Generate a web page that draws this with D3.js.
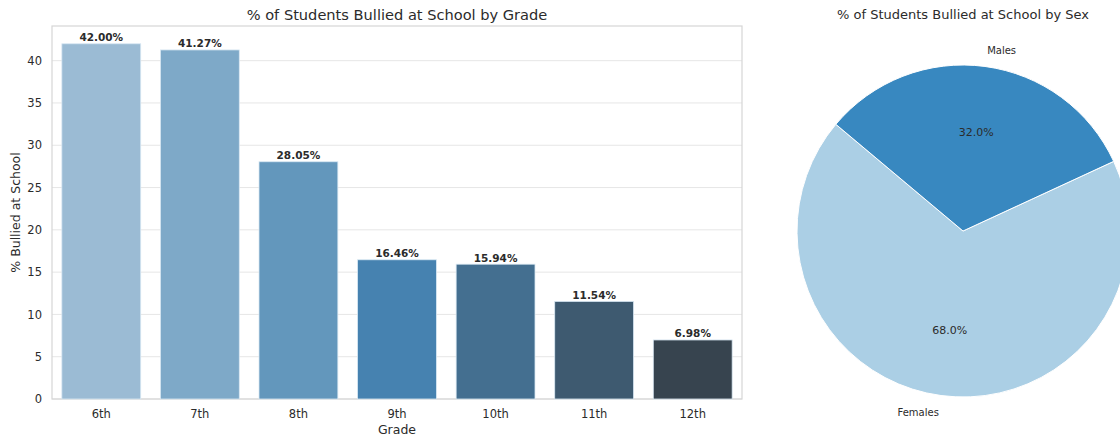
<!DOCTYPE html>
<html>
<head>
<meta charset="utf-8">
<script src="https://cdn.jsdelivr.net/npm/d3@7.9.0/dist/d3.min.js"></script>
<style>
  body { margin: 0; background: #fff; }
  svg { font-family: "DejaVu Sans", sans-serif; }
</style>
</head>
<body>
<svg id="chart" width="1120" height="439"></svg>
<script>
// bar chart data
const grades = ['6th', '7th', '8th', '9th', '10th', '11th', '12th'];
const bulliedPct = [42.00, 41.27, 28.05, 16.46, 15.94, 11.54, 6.98];
const barColors = ['#9bbbd4', '#7ea9c8', '#6397bc', '#4682b0', '#446f90', '#3e5a70', '#37444f'];
const yTicks = [0, 5, 10, 15, 20, 25, 30, 35, 40];

// pie data (drawn counter-clockwise from 140 degrees, like matplotlib)
const sexes = ['Females', 'Males'];
const sexPct = [68.0, 32.0];
const pieColors = ['#abcfe5', '#3888c0'];

const svg = d3.select('#chart');
const textColor = '#2b2b2b';

// ---- bar chart ----
const plotL = 52, plotR = 742, plotT = 26, plotB = 399;

const x = d3.scaleBand().domain(grades).range([plotL, plotR]).paddingInner(0.2).paddingOuter(0.1);
const y = d3.scaleLinear().domain([0, 44.1]).range([plotB, plotT]);

// grid
svg.append('g')
  .selectAll('line')
  .data(yTicks)
  .join('line')
  .attr('x1', plotL).attr('x2', plotR)
  .attr('y1', d => y(d)).attr('y2', d => y(d))
  .attr('stroke', '#e6e6e6')
  .attr('stroke-width', 1);

// frame
svg.append('rect')
  .attr('x', plotL).attr('y', plotT)
  .attr('width', plotR - plotL).attr('height', plotB - plotT)
  .attr('fill', 'none')
  .attr('stroke', '#d6d6d6')
  .attr('stroke-width', 1.2);

// bars
svg.append('g')
  .selectAll('rect')
  .data(grades)
  .join('rect')
  .attr('x', d => x(d))
  .attr('y', (d, i) => y(bulliedPct[i]))
  .attr('width', x.bandwidth())
  .attr('height', (d, i) => y(0) - y(bulliedPct[i]))
  .attr('fill', (d, i) => barColors[i])
  .attr('stroke', '#d9e8f3')
  .attr('stroke-width', 0.8);

// bar value labels
svg.append('g')
  .selectAll('text')
  .data(grades)
  .join('text')
  .attr('x', d => x(d) + x.bandwidth() / 2)
  .attr('y', (d, i) => y(bulliedPct[i]) - 2.5)
  .attr('text-anchor', 'middle')
  .attr('font-size', 10.5)
  .attr('font-weight', 'bold')
  .attr('fill', textColor)
  .text((d, i) => bulliedPct[i].toFixed(2) + '%');

// y tick labels
svg.append('g')
  .selectAll('text')
  .data(yTicks)
  .join('text')
  .attr('x', plotL - 10)
  .attr('y', d => y(d))
  .attr('dy', '0.36em')
  .attr('text-anchor', 'end')
  .attr('font-size', 11.5)
  .attr('fill', textColor)
  .text(d => d);

// x tick labels
svg.append('g')
  .selectAll('text')
  .data(grades)
  .join('text')
  .attr('x', d => x(d) + x.bandwidth() / 2)
  .attr('y', plotB + 19)
  .attr('text-anchor', 'middle')
  .attr('font-size', 11.5)
  .attr('fill', textColor)
  .text(d => d);

svg.append('text')
  .attr('x', (plotL + plotR) / 2).attr('y', plotB + 35)
  .attr('text-anchor', 'middle')
  .attr('font-size', 12.5)
  .attr('fill', textColor)
  .text('Grade');

svg.append('text')
  .attr('transform', `translate(20,${(plotT + plotB) / 2}) rotate(-90)`)
  .attr('text-anchor', 'middle')
  .attr('font-size', 12.5)
  .attr('fill', textColor)
  .text('% Bullied at School');

svg.append('text')
  .attr('x', (plotL + plotR) / 2).attr('y', 20)
  .attr('text-anchor', 'middle')
  .attr('font-size', 14.6)
  .attr('fill', textColor)
  .text('% of Students Bullied at School by Grade');

// ---- pie chart ----
const cx = 963, cy = 231, r = 166;
const startDeg = 140;
const toRad = deg => deg * Math.PI / 180;

// d3 angles: 0 at 12 o'clock, clockwise; matplotlib: 0 at 3 o'clock, ccw
const pie = d3.pie().sort(null).value(d => d)
  .startAngle(toRad(90 - startDeg))
  .endAngle(toRad(90 - startDeg - 360));
const arcs = pie(sexPct);
const arc = d3.arc().innerRadius(0).outerRadius(r);

const pg = svg.append('g').attr('transform', `translate(${cx},${cy})`);

pg.selectAll('path')
  .data(arcs)
  .join('path')
  .attr('d', arc)
  .attr('fill', (d, i) => pieColors[i])
  .attr('stroke', '#fff')
  .attr('stroke-width', 1);

arcs.forEach((d, i) => {
  const mid = (d.startAngle + d.endAngle) / 2;
  const sx = Math.sin(mid), sy = -Math.cos(mid);
  pg.append('text')
    .attr('x', sx * r * 0.6).attr('y', sy * r * 0.6)
    .attr('dy', '0.36em')
    .attr('text-anchor', 'middle')
    .attr('font-size', 11)
    .attr('fill', textColor)
    .text(sexPct[i].toFixed(1) + '%');
  pg.append('text')
    .attr('x', sx * r * 1.1).attr('y', sy * r * 1.1)
    .attr('dy', '0.36em')
    .attr('text-anchor', sx > 0 ? 'start' : 'end')
    .attr('font-size', 10)
    .attr('fill', textColor)
    .text(sexes[i]);
});

svg.append('text')
  .attr('x', cx).attr('y', 19)
  .attr('text-anchor', 'middle')
  .attr('font-size', 13)
  .attr('fill', textColor)
  .text('% of Students Bullied at School by Sex');
</script>
</body>
</html>
